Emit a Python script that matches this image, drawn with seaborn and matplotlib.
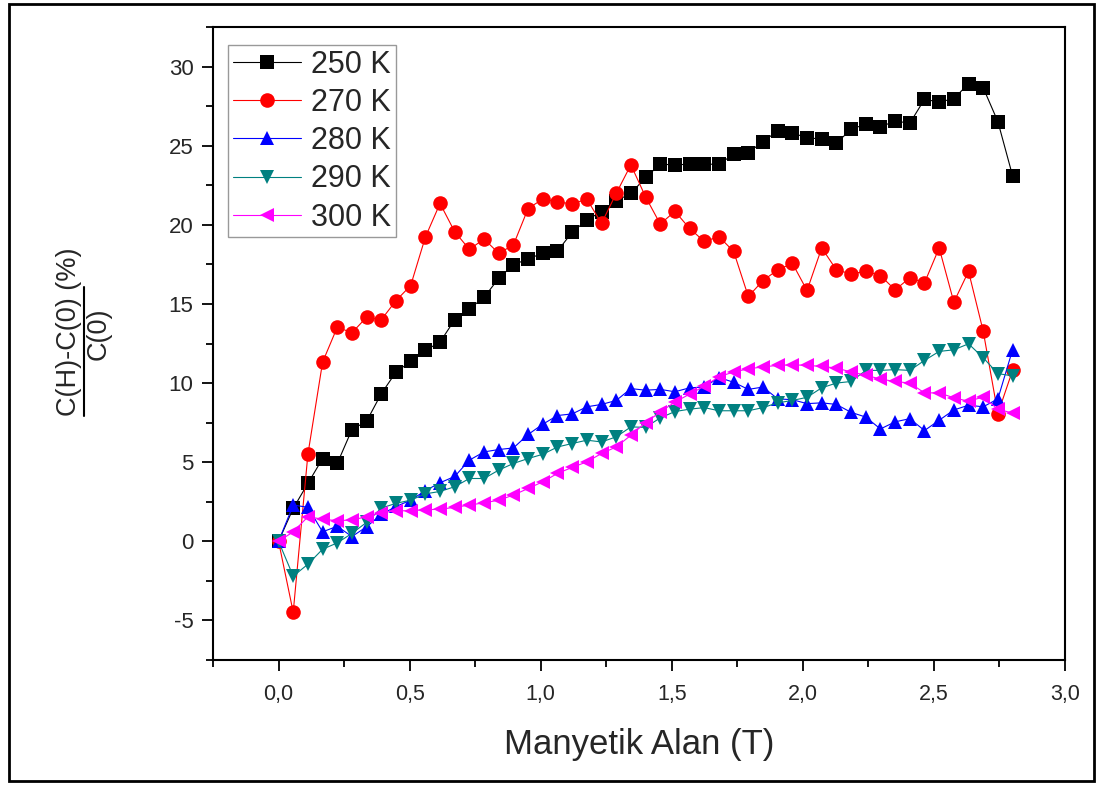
import matplotlib
matplotlib.use("Agg")
import matplotlib.pyplot as plt
from matplotlib.lines import Line2D
from matplotlib.patches import Rectangle
from matplotlib.ticker import MultipleLocator, FixedLocator, FixedFormatter
import seaborn as sns
import pandas as pd

# ---------------- data ----------------
field_T = [0.000, 0.056, 0.112, 0.168, 0.224, 0.280, 0.336, 0.392, 0.448, 0.504,
           0.560, 0.616, 0.672, 0.728, 0.784, 0.840, 0.896, 0.952, 1.008, 1.064,
           1.120, 1.176, 1.232, 1.288, 1.344, 1.400, 1.456, 1.512, 1.568, 1.624,
           1.680, 1.736, 1.792, 1.848, 1.904, 1.960, 2.016, 2.072, 2.128, 2.184,
           2.240, 2.296, 2.352, 2.408, 2.464, 2.520, 2.576, 2.632, 2.688, 2.744,
           2.800]

c250 = [0, 2.08, 3.66, 5.23, 4.92, 7.06, 7.59, 9.33, 10.69, 11.37,
        12.06, 12.59, 14.0, 14.69, 15.42, 16.62, 17.48, 17.84, 18.21, 18.34,
        19.53, 20.3, 20.84, 21.52, 21.98, 22.99, 23.83, 23.79, 23.83, 23.83,
        23.83, 24.46, 24.56, 25.26, 25.93, 25.83, 25.47, 25.45, 25.16, 26.04,
        26.36, 26.19, 26.56, 26.42, 27.93, 27.76, 27.97, 28.92, 28.66, 26.52,
        23.1]

c270 = [0, -4.48, 5.5, 11.32, 13.53, 13.18, 14.16, 14.0, 15.21, 16.16,
        19.22, 21.35, 19.56, 18.45, 19.1, 18.2, 18.73, 21.03, 21.63, 21.46,
        21.31, 21.63, 20.09, 21.98, 23.79, 21.77, 20.05, 20.85, 19.77, 18.95,
        19.25, 18.32, 15.47, 16.48, 17.15, 17.57, 15.85, 18.54, 17.15, 16.9,
        17.06, 16.79, 15.89, 16.65, 16.33, 18.54, 15.11, 17.06, 13.28, 8.07,
        10.8]

c280 = [0, 2.29, 2.15, 0.6, 0.95, 0.3, 0.92, 1.7, 2.2, 2.6,
        3.2, 3.7, 4.1, 5.13, 5.65, 5.8, 5.9, 6.75, 7.4, 7.95,
        8.05, 8.5, 8.65, 8.9, 9.65, 9.55, 9.6, 9.45, 9.7, 9.75,
        10.35, 10.05, 9.6, 9.75, 9.0, 8.95, 8.7, 8.75, 8.65, 8.15,
        7.85, 7.1, 7.55, 7.75, 7.0, 7.65, 8.3, 8.6, 8.5, 9.0,
        12.1]

c290 = [0, -2.2, -1.45, -0.5, -0.1, 0.5, 1.2, 2.1, 2.4, 2.6,
        3.0, 3.15, 3.45, 3.97, 3.97, 4.5, 4.92, 5.23, 5.5, 5.96,
        6.18, 6.39, 6.28, 6.6, 7.23, 7.2, 7.8, 8.2, 8.35, 8.45,
        8.25, 8.25, 8.25, 8.45, 8.75, 8.9, 9.1, 9.7, 10.0, 10.1,
        10.8, 10.8, 10.85, 10.8, 11.43, 12.0, 12.1, 12.48, 11.6, 10.6,
        10.45]

c300 = [0, 0.6, 1.55, 1.4, 1.3, 1.35, 1.55, 1.8, 1.93, 1.93,
        2.0, 2.02, 2.15, 2.29, 2.43, 2.6, 2.92, 3.34, 3.76, 4.29,
        4.67, 5.02, 5.55, 5.96, 6.7, 7.5, 8.17, 8.8, 9.3, 9.8,
        10.4, 10.7, 10.9, 11.02, 11.12, 11.15, 11.12, 11.05, 10.95, 10.7,
        10.5, 10.25, 10.1, 10.0, 9.38, 9.38, 9.07, 8.85, 9.12, 8.35,
        8.1]

series_labels = ["250 K", "270 K", "280 K", "290 K", "300 K"]
series_values = [c250, c270, c280, c290, c300]

xtick_values = [0.0, 0.5, 1.0, 1.5, 2.0, 2.5, 3.0]
xtick_labels = ["0,0", "0,5", "1,0", "1,5", "2,0", "2,5", "3,0"]
ytick_values = [-5, 0, 5, 10, 15, 20, 25, 30]
ytick_labels = ["-5", "0", "5", "10", "15", "20", "25", "30"]

x_label = "Manyetik Alan (T)"
y_num = "C(H)-C(0) (%)"
y_den = "C(0)"

# ---------------- styles ----------------
palette = {"250 K": "#000000", "270 K": "#FF0000", "280 K": "#0000FF",
           "290 K": "#008080", "300 K": "#FF00FF"}
markers = {"250 K": "s", "270 K": "o", "280 K": "^", "290 K": "v", "300 K": "<"}

rows = []
for lab, vals in zip(series_labels, series_values):
    for x, y in zip(field_T, vals):
        rows.append({"H": x, "val": y, "T": lab})
df = pd.DataFrame(rows)

sns.set_style("white")
plt.rcParams["font.family"] = ["Liberation Sans", "DejaVu Sans"]

W, H = 1103, 785
fig = plt.figure(figsize=(W / 100, H / 100), dpi=100)
ax_l, ax_r, ax_t, ax_b = 213, 1065, 27, 660
ax = fig.add_axes([ax_l / W, 1 - ax_b / H, (ax_r - ax_l) / W, (ax_b - ax_t) / H])

sns.lineplot(data=df, x="H", y="val", hue="T", style="T",
             hue_order=series_labels, style_order=series_labels,
             palette=palette, markers=markers, dashes=False, sort=False,
             estimator=None, markersize=10.5, markeredgewidth=0,
             linewidth=0.8, ax=ax, legend=True)

ax.set_xlim(-0.25, 3.0)
ax.set_ylim(-7.5, 32.5)

ax.xaxis.set_major_locator(FixedLocator(xtick_values))
ax.xaxis.set_major_formatter(FixedFormatter(xtick_labels))
ax.xaxis.set_minor_locator(MultipleLocator(0.25))
ax.yaxis.set_major_locator(FixedLocator(ytick_values))
ax.yaxis.set_major_formatter(FixedFormatter(ytick_labels))
ax.yaxis.set_minor_locator(MultipleLocator(2.5))

ax.tick_params(axis="both", which="both", direction="out", color="black",
               width=1.3, top=False, right=False, bottom=True, left=True)
ax.tick_params(axis="both", which="major", length=8, pad=6)
ax.tick_params(axis="y", which="major", labelsize=16)
ax.tick_params(axis="x", which="major", labelsize=15.5, pad=9)
ax.tick_params(axis="both", which="minor", length=5)

for sp in ax.spines.values():
    sp.set_visible(True)
    sp.set_color("black")
    sp.set_linewidth(1.5)

ax.set_xlabel(x_label, fontsize=25)
ax.xaxis.set_label_coords(0.5, -0.107)
ax.set_ylabel("")

# legend
handles, labels = ax.get_legend_handles_labels()
leg = ax.legend(handles, labels, loc="upper left",
                bbox_to_anchor=((228 - ax_l) / (ax_r - ax_l), (ax_b - 45) / (ax_b - ax_t)),
                borderaxespad=0, fontsize=22, handlelength=2.25, handletextpad=0.33,
                labelspacing=0.27, borderpad=0.15, frameon=True, fancybox=False,
                edgecolor="#999999", framealpha=1)
leg.get_frame().set_linewidth(1.0)

# y label as a fraction
fig.text(69 / W, 1 - 332 / H, y_num, rotation=90, ha="center", va="center", fontsize=19.5)
fig.text(99 / W, 1 - 334 / H, y_den, rotation=90, ha="center", va="center", fontsize=19.5)
fig.add_artist(Line2D([84 / W, 84 / W], [1 - 416 / H, 1 - 287 / H],
                      transform=fig.transFigure, color="black", linewidth=1.5))

# outer frame
fig.add_artist(Rectangle((9 / W, 4 / H), (1094 - 9) / W, (781 - 4) / H,
                         transform=fig.transFigure, fill=False,
                         edgecolor="black", linewidth=2))

fig.savefig("out.png", dpi=100)
